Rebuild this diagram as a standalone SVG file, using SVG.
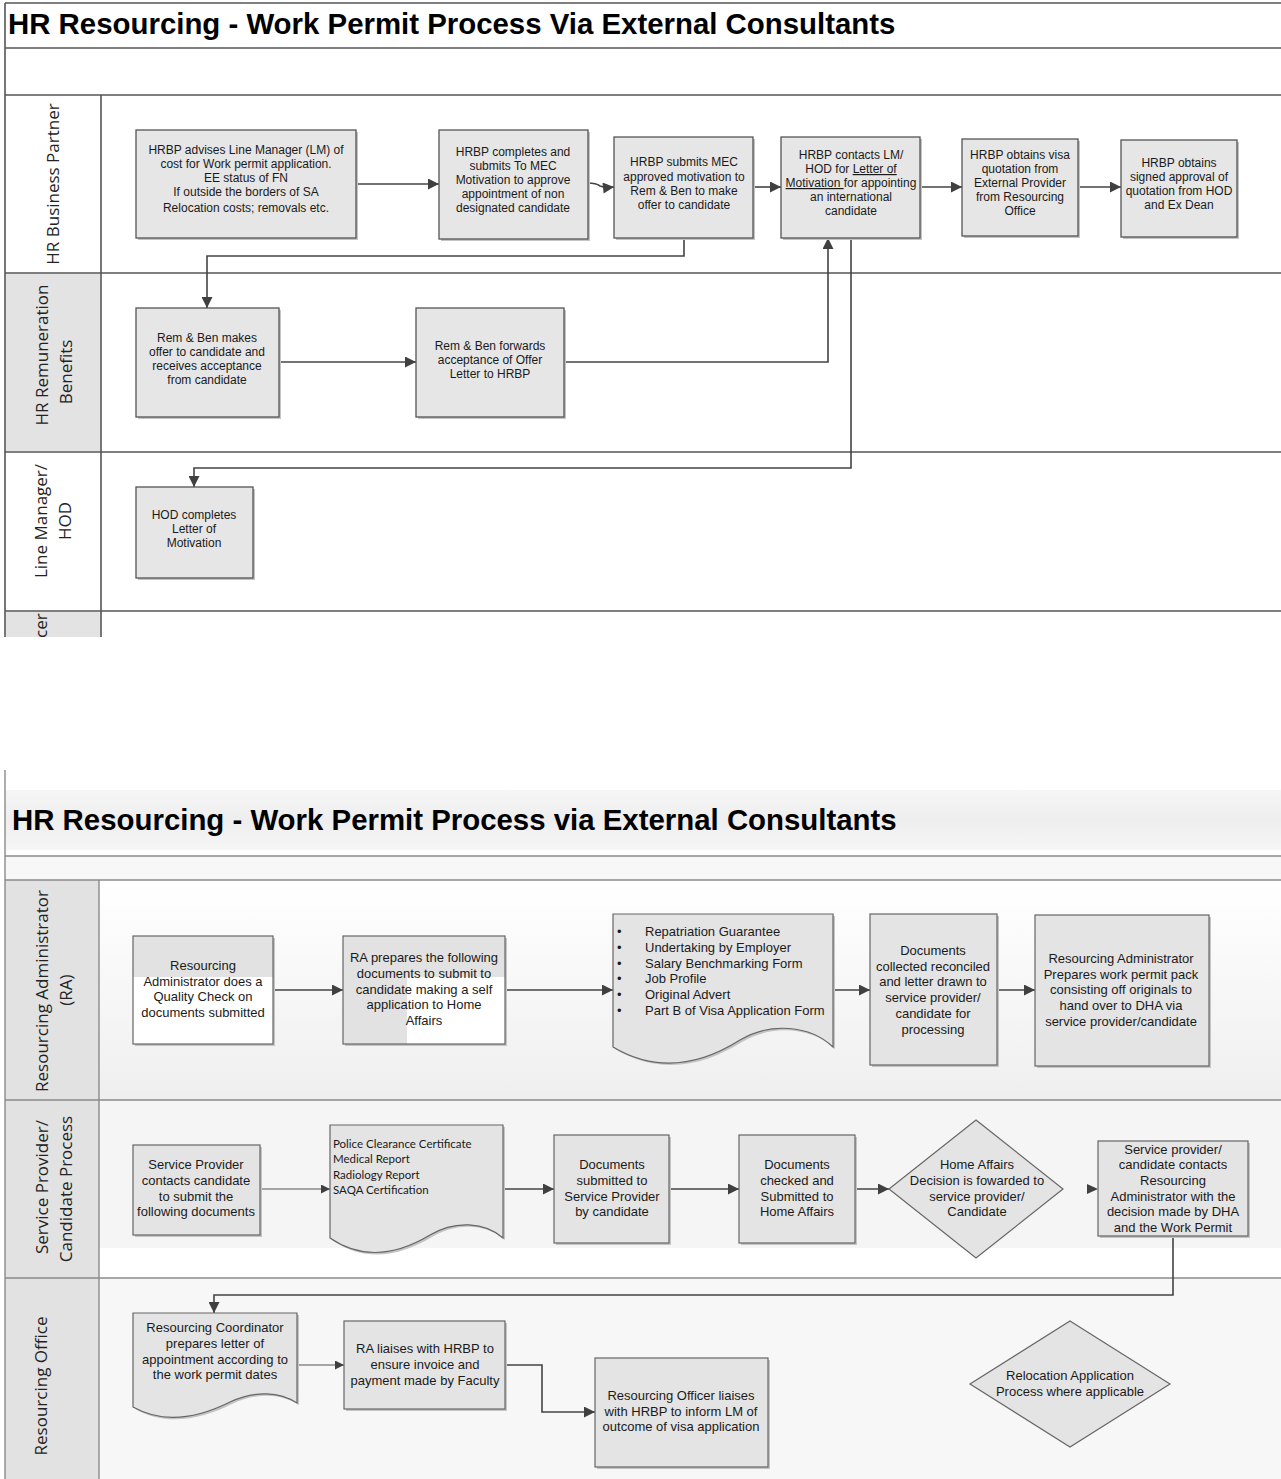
<svg xmlns="http://www.w3.org/2000/svg" width="1281" height="1479" viewBox="0 0 1281 1479">
<style>
.frame{stroke:#555;stroke-width:1.6;fill:none}
.frame2{stroke:#8a8a8a;stroke-width:1.4;fill:none}
.box{fill:#e6e6e6;stroke:#555;stroke-width:1.3}
.box2{fill:#e4e4e4;stroke:#666;stroke-width:1.2}
.shadow{fill:#c4c4c4}
.t{font-family:"Liberation Sans",Arial,sans-serif;font-size:12px;fill:#1a1a1a;text-anchor:middle}
.t2{font-family:"Liberation Sans",Arial,sans-serif;font-size:13px;fill:#1a1a1a;text-anchor:middle}
.tl{font-family:"Liberation Sans",Arial,sans-serif;font-size:13px;fill:#1a1a1a}
.tc{font-family:Lato,"Open Sans",sans-serif;font-size:11.5px;fill:#1a1a1a}
.lane{font-family:"Open Sans","Noto Sans",sans-serif;font-size:17px;fill:#222;text-anchor:middle}
.title{font-family:"Liberation Sans",Arial,sans-serif;font-size:29.4px;font-weight:bold;fill:#000}
.conn{stroke:#444;stroke-width:1.6;fill:none}
.conn2{stroke:#555;stroke-width:1.1;fill:none}
</style>
<defs>
<marker id="arr" viewBox="0 0 10 10" refX="10" refY="5" markerWidth="12" markerHeight="11" markerUnits="userSpaceOnUse" orient="auto"><path d="M0,0 L10,5 L0,10 z" fill="#404040"/></marker>
<marker id="arrs" viewBox="0 0 10 10" refX="10" refY="5" markerWidth="9" markerHeight="9" markerUnits="userSpaceOnUse" orient="auto"><path d="M0,0 L10,5 L0,10 z" fill="#404040"/></marker>
<linearGradient id="gRA" x1="0" y1="0" x2="0" y2="1"><stop offset="0" stop-color="#ffffff"/><stop offset="1" stop-color="#efefef"/></linearGradient>
<linearGradient id="gTitle" x1="0" y1="0" x2="0" y2="1"><stop offset="0" stop-color="#f6f6f6"/><stop offset="0.5" stop-color="#eeeeee"/><stop offset="1" stop-color="#f6f6f6"/></linearGradient>
<clipPath id="clipCer"><rect x="5" y="612" width="96" height="25"/></clipPath>
</defs>

<g id="top-frame">
<rect x="0" y="0" width="1281" height="640" fill="#ffffff"/>
<rect x="6" y="612" width="94" height="25" fill="#e3e3e3"/>
<rect x="6" y="274" width="94" height="177" fill="#e3e3e3"/>
<line class="frame" x1="5" y1="3" x2="1281" y2="3"/>
<line class="frame" x1="5" y1="3" x2="5" y2="637"/>
<line class="frame" x1="5" y1="48" x2="1281" y2="48"/>
<line class="frame" x1="5" y1="95" x2="1281" y2="95"/>
<line class="frame" x1="5" y1="273" x2="1281" y2="273"/>
<line class="frame" x1="5" y1="452" x2="1281" y2="452"/>
<line class="frame" x1="5" y1="611" x2="1281" y2="611"/>
<line class="frame" x1="101" y1="95" x2="101" y2="637"/>
<text class="title" x="8" y="34">HR Resourcing - Work Permit Process Via External Consultants</text>
<text class="lane" transform="translate(59,184) rotate(-90)">HR Business Partner</text>
<text class="lane" transform="translate(48,355) rotate(-90)">HR Remuneration</text>
<text class="lane" transform="translate(72,372) rotate(-90)">Benefits</text>
<text class="lane" transform="translate(47,521) rotate(-90)">Line Manager/</text>
<text class="lane" transform="translate(71,521) rotate(-90)">HOD</text>
<g clip-path="url(#clipCer)"><text class="lane" style="text-anchor:start" transform="translate(47,638) rotate(-90)">cer</text></g>
</g>

<g id="bottom-frame">
<rect x="5" y="790" width="1276" height="60" fill="url(#gTitle)"/>
<rect x="5" y="856" width="1276" height="24" fill="#f7f7f7"/>
<rect x="99" y="880" width="1182" height="220" fill="url(#gRA)"/>
<rect x="99" y="1100" width="1182" height="148" fill="#f5f5f5"/>
<rect x="99" y="1278" width="1182" height="201" fill="#f7f7f7"/>
<rect x="5" y="880" width="94" height="599" fill="#e2e2e2"/>
<line class="frame2" x1="5" y1="770" x2="5" y2="1479"/>
<line class="frame2" x1="5" y1="856" x2="1281" y2="856"/>
<line class="frame2" x1="5" y1="880" x2="1281" y2="880"/>
<line class="frame2" x1="5" y1="1100" x2="1281" y2="1100"/>
<line class="frame2" x1="5" y1="1278" x2="1281" y2="1278"/>
<line class="frame2" x1="99" y1="880" x2="99" y2="1479"/>
<text class="title" x="12" y="830">HR Resourcing - Work Permit Process via External Consultants</text>
<text class="lane" transform="translate(48,991) rotate(-90)">Resourcing Administrator</text>
<text class="lane" transform="translate(72,990) rotate(-90)">(RA)</text>
<text class="lane" transform="translate(48,1187) rotate(-90)">Service Provider/</text>
<text class="lane" transform="translate(72,1189) rotate(-90)">Candidate Process</text>
<text class="lane" transform="translate(47,1386) rotate(-90)">Resourcing Office</text>
</g>

<g id="connectors">
<line class="conn" x1="356" y1="184" x2="439" y2="184" marker-end="url(#arr)"/>
<path class="conn" d="M588,183 Q596,183 600,186 Q604,188 614,187" marker-end="url(#arr)"/>
<line class="conn" x1="753" y1="187" x2="781" y2="187" marker-end="url(#arr)"/>
<line class="conn" x1="920" y1="187" x2="962" y2="187" marker-end="url(#arr)"/>
<line class="conn" x1="1078" y1="187" x2="1121" y2="187" marker-end="url(#arr)"/>
<polyline class="conn" points="684,238 684,256 207,256 207,308" marker-end="url(#arr)"/>
<line class="conn" x1="279" y1="362" x2="416" y2="362" marker-end="url(#arr)"/>
<polyline class="conn" points="564,362 828,362 828,238" marker-end="url(#arr)"/>
<polyline class="conn" points="851,238 851,468 194,468 194,487" marker-end="url(#arr)"/>
<line class="conn" x1="273" y1="990" x2="343" y2="990" marker-end="url(#arr)"/>
<line class="conn" x1="505" y1="990" x2="613" y2="990" marker-end="url(#arr)"/>
<line class="conn" x1="833" y1="990" x2="870" y2="990" marker-end="url(#arr)"/>
<line class="conn" x1="997" y1="990" x2="1035" y2="990" marker-end="url(#arr)"/>
<line class="conn2" x1="260" y1="1189" x2="330" y2="1189" marker-end="url(#arrs)"/>
<line class="conn" x1="503" y1="1189" x2="554" y2="1189" marker-end="url(#arr)"/>
<line class="conn" x1="669" y1="1189" x2="739" y2="1189" marker-end="url(#arr)"/>
<line class="conn" x1="855" y1="1189" x2="889" y2="1189" marker-end="url(#arr)"/>
<path d="M1087,1184 L1098,1189 L1087,1194 z" fill="#404040"/>
<polyline class="conn" points="1173,1236 1173,1295 214,1295 214,1313" marker-end="url(#arr)"/>
<line class="conn2" x1="297" y1="1365" x2="344" y2="1365" marker-end="url(#arrs)"/>
<polyline class="conn" points="505,1365 542,1365 542,1412 595,1412" marker-end="url(#arr)"/>
</g>

<g id="n-hrbp-advises">
<rect class="shadow" x="138" y="132" width="220" height="108"/>
<rect class="box" x="136" y="130" width="220" height="108"/>
<text class="t" x="246" y="154">HRBP advises Line Manager (LM) of</text>
<text class="t" x="246" y="168">cost for Work permit application.</text>
<text class="t" x="246" y="182">EE status of FN</text>
<text class="t" x="246" y="196">If outside the borders of SA</text>
<text class="t" x="246" y="212">Relocation costs; removals etc.</text>
</g>
<g id="n-hrbp-completes">
<rect class="shadow" x="441" y="132" width="149" height="109"/>
<rect class="box" x="439" y="130" width="149" height="109"/>
<text class="t" x="513" y="156">HRBP completes and</text>
<text class="t" x="513" y="170">submits To MEC</text>
<text class="t" x="513" y="184">Motivation to approve</text>
<text class="t" x="513" y="198">appointment of non</text>
<text class="t" x="513" y="212">designated candidate</text>
</g>
<g id="n-hrbp-submits">
<rect class="shadow" x="616" y="139" width="139" height="101"/>
<rect class="box" x="614" y="137" width="139" height="101"/>
<text class="t" x="684" y="166">HRBP submits MEC</text>
<text class="t" x="684" y="181">approved motivation to</text>
<text class="t" x="684" y="195">Rem &amp; Ben to make</text>
<text class="t" x="684" y="209">offer to candidate</text>
</g>
<g id="n-hrbp-contacts">
<rect class="shadow" x="783" y="139" width="139" height="101"/>
<rect class="box" x="781" y="137" width="139" height="101"/>
<text class="t" x="851" y="159">HRBP contacts LM/</text>
<text class="t" x="851" y="173">HOD for <tspan text-decoration="underline">Letter of</tspan></text>
<text class="t" x="851" y="187"><tspan text-decoration="underline">Motivation </tspan>for  appointing</text>
<text class="t" x="851" y="201">an international</text>
<text class="t" x="851" y="215">candidate</text>
</g>
<g id="n-hrbp-visa">
<rect class="shadow" x="964" y="141" width="116" height="97"/>
<rect class="box" x="962" y="139" width="116" height="97"/>
<text class="t" x="1020" y="159">HRBP obtains visa</text>
<text class="t" x="1020" y="173">quotation from</text>
<text class="t" x="1020" y="187">External Provider</text>
<text class="t" x="1020" y="201">from Resourcing</text>
<text class="t" x="1020" y="215">Office</text>
</g>
<g id="n-hrbp-signed">
<rect class="shadow" x="1123" y="142" width="116" height="97"/>
<rect class="box" x="1121" y="140" width="116" height="97"/>
<text class="t" x="1179" y="167">HRBP obtains</text>
<text class="t" x="1179" y="181">signed approval of</text>
<text class="t" x="1179" y="195">quotation from HOD</text>
<text class="t" x="1179" y="209">and Ex Dean</text>
</g>
<g id="n-remben-offer">
<rect class="shadow" x="138" y="310" width="143" height="109"/>
<rect class="box" x="136" y="308" width="143" height="109"/>
<text class="t" x="207" y="342">Rem &amp; Ben makes</text>
<text class="t" x="207" y="356">offer to candidate and</text>
<text class="t" x="207" y="370">receives acceptance</text>
<text class="t" x="207" y="384">from candidate</text>
</g>
<g id="n-remben-forward">
<rect class="shadow" x="418" y="310" width="148" height="109"/>
<rect class="box" x="416" y="308" width="148" height="109"/>
<text class="t" x="490" y="350">Rem &amp; Ben forwards</text>
<text class="t" x="490" y="364">acceptance of Offer</text>
<text class="t" x="490" y="378">Letter to HRBP</text>
</g>
<g id="n-hod-letter">
<rect class="shadow" x="138" y="489" width="117" height="91"/>
<rect class="box" x="136" y="487" width="117" height="91"/>
<text class="t" x="194" y="519">HOD completes</text>
<text class="t" x="194" y="533">Letter of</text>
<text class="t" x="194" y="547">Motivation</text>
</g>

<g id="n-ra-quality">
<rect class="shadow" x="135" y="938" width="140" height="108"/>
<rect x="133" y="936" width="140" height="108" fill="#ffffff"/>
<rect x="133" y="936" width="140" height="41" fill="#e2e2e2"/>
<rect x="133" y="936" width="140" height="108" fill="none" stroke="#666" stroke-width="1.2"/>
<text class="t2" x="203" y="970">Resourcing</text>
<text class="t2" x="203" y="986">Administrator does a</text>
<text class="t2" x="203" y="1001">Quality Check on</text>
<text class="t2" x="203" y="1017">documents submitted</text>
</g>
<g id="n-ra-prepares">
<rect class="shadow" x="345" y="938" width="162" height="108"/>
<rect x="343" y="936" width="162" height="108" fill="#ffffff"/>
<rect x="343" y="936" width="162" height="41" fill="#e2e2e2"/>
<rect x="343" y="936" width="64" height="108" fill="#e2e2e2"/>
<rect x="343" y="936" width="162" height="108" fill="none" stroke="#666" stroke-width="1.2"/>
<text class="t2" x="424" y="962">RA prepares the following</text>
<text class="t2" x="424" y="978">documents to submit to</text>
<text class="t2" x="424" y="994">candidate making a self</text>
<text class="t2" x="424" y="1009">application to Home</text>
<text class="t2" x="424" y="1025">Affairs</text>
</g>
<g id="n-ra-doclist">
<path d="M615,916 H835 V1049 C812,1027 772,1024 742,1042 C707,1064 662,1077 615,1049 Z" fill="#c4c4c4"/>
<path d="M613,914 H833 V1047 C810,1025 770,1022 740,1040 C705,1062 660,1075 613,1047 Z" fill="#e4e4e4" stroke="#666" stroke-width="1.2"/>
<text class="tl" x="617" y="936">•</text>
<text class="tl" x="617" y="952">•</text>
<text class="tl" x="617" y="968">•</text>
<text class="tl" x="617" y="983">•</text>
<text class="tl" x="617" y="999">•</text>
<text class="tl" x="617" y="1015">•</text>
<text class="tl" x="645" y="936">Repatriation Guarantee</text>
<text class="tl" x="645" y="952">Undertaking by Employer</text>
<text class="tl" x="645" y="968">Salary Benchmarking Form</text>
<text class="tl" x="645" y="983">Job Profile</text>
<text class="tl" x="645" y="999">Original Advert</text>
<text class="tl" x="645" y="1015">Part B of Visa Application Form</text>
</g>
<g id="n-ra-collected">
<rect class="shadow" x="872" y="916" width="127" height="151"/>
<rect class="box2" x="870" y="914" width="127" height="151"/>
<text class="t2" x="933" y="955">Documents</text>
<text class="t2" x="933" y="971">collected reconciled</text>
<text class="t2" x="933" y="986">and letter drawn to</text>
<text class="t2" x="933" y="1002">service provider/</text>
<text class="t2" x="933" y="1018">candidate for</text>
<text class="t2" x="933" y="1034">processing</text>
</g>
<g id="n-ra-pack">
<rect class="shadow" x="1037" y="917" width="174" height="151"/>
<rect class="box2" x="1035" y="915" width="174" height="151"/>
<text class="t2" x="1121" y="963">Resourcing Administrator</text>
<text class="t2" x="1121" y="979">Prepares work permit pack</text>
<text class="t2" x="1121" y="994">consisting off originals to</text>
<text class="t2" x="1121" y="1010">hand over to DHA via</text>
<text class="t2" x="1121" y="1026">service provider/candidate</text>
</g>

<g id="n-sp-contacts">
<rect class="shadow" x="135" y="1147" width="127" height="90"/>
<rect class="box2" x="133" y="1145" width="127" height="90"/>
<text class="t2" x="196" y="1169">Service Provider</text>
<text class="t2" x="196" y="1185">contacts candidate</text>
<text class="t2" x="196" y="1201">to submit the</text>
<text class="t2" x="196" y="1216">following documents</text>
</g>
<g id="n-sp-doclist">
<path d="M332,1127 H505 V1240 C487,1224 457,1222 432,1237 C402,1255 367,1264 332,1240 Z" fill="#c4c4c4"/>
<path d="M330,1125 H503 V1238 C485,1222 455,1220 430,1235 C400,1253 365,1262 330,1238 Z" fill="#e4e4e4" stroke="#666" stroke-width="1.2"/>
<text class="tc" x="333" y="1148">Police Clearance Certificate</text>
<text class="tc" x="333" y="1163">Medical Report</text>
<text class="tc" x="333" y="1179">Radiology Report</text>
<text class="tc" x="333" y="1194">SAQA Certification</text>
</g>
<g id="n-sp-submitted">
<rect class="shadow" x="556" y="1137" width="115" height="108"/>
<rect class="box2" x="554" y="1135" width="115" height="108"/>
<text class="t2" x="612" y="1169">Documents</text>
<text class="t2" x="612" y="1185">submitted to</text>
<text class="t2" x="612" y="1201">Service Provider</text>
<text class="t2" x="612" y="1216">by candidate</text>
</g>
<g id="n-sp-checked">
<rect class="shadow" x="741" y="1137" width="116" height="108"/>
<rect class="box2" x="739" y="1135" width="116" height="108"/>
<text class="t2" x="797" y="1169">Documents</text>
<text class="t2" x="797" y="1185">checked and</text>
<text class="t2" x="797" y="1201">Submitted to</text>
<text class="t2" x="797" y="1216">Home Affairs</text>
</g>
<g id="n-sp-decision">
<path d="M976,1120 L1063,1189 L976,1258 L889,1189 Z" fill="#e4e4e4" stroke="#666" stroke-width="1.2"/>
<text class="t2" x="977" y="1169">Home Affairs</text>
<text class="t2" x="977" y="1185">Decision is fowarded to</text>
<text class="t2" x="977" y="1201">service provider/</text>
<text class="t2" x="977" y="1216">Candidate</text>
</g>
<g id="n-sp-report">
<rect class="shadow" x="1100" y="1143" width="150" height="95"/>
<rect class="box2" x="1098" y="1141" width="150" height="95"/>
<text class="t2" x="1173" y="1154">Service provider/</text>
<text class="t2" x="1173" y="1169">candidate contacts</text>
<text class="t2" x="1173" y="1185">Resourcing</text>
<text class="t2" x="1173" y="1201">Administrator with the</text>
<text class="t2" x="1173" y="1216">decision made by DHA</text>
<text class="t2" x="1173" y="1232">and  the Work Permit</text>
</g>

<g id="n-ro-letter">
<path d="M135,1315 H299 V1405 C282,1394 257,1392 232,1404 C202,1419 167,1427 135,1409 Z" fill="#c4c4c4"/>
<path d="M133,1313 H297 V1403 C280,1392 255,1390 230,1402 C200,1417 165,1425 133,1407 Z" fill="#e4e4e4" stroke="#666" stroke-width="1.2"/>
<text class="t2" x="215" y="1332">Resourcing Coordinator</text>
<text class="t2" x="215" y="1348">prepares letter of</text>
<text class="t2" x="215" y="1364">appointment according to</text>
<text class="t2" x="215" y="1379">the work permit dates</text>
</g>
<g id="n-ro-invoice">
<rect class="shadow" x="346" y="1323" width="161" height="88"/>
<rect class="box2" x="344" y="1321" width="161" height="88"/>
<text class="t2" x="425" y="1353">RA liaises with HRBP to</text>
<text class="t2" x="425" y="1369">ensure invoice and</text>
<text class="t2" x="425" y="1385">payment made by Faculty</text>
</g>
<g id="n-ro-outcome">
<rect class="shadow" x="597" y="1360" width="173" height="109"/>
<rect class="box2" x="595" y="1358" width="173" height="109"/>
<text class="t2" x="681" y="1400">Resourcing Officer liaises</text>
<text class="t2" x="681" y="1416">with HRBP to inform LM of</text>
<text class="t2" x="681" y="1431">outcome of visa application</text>
</g>
<g id="n-ro-relocation">
<path d="M1070,1321 L1170,1384 L1070,1447 L970,1384 Z" fill="#e4e4e4" stroke="#666" stroke-width="1.2"/>
<text class="t2" x="1070" y="1380">Relocation Application</text>
<text class="t2" x="1070" y="1396">Process where applicable</text>
</g>
</svg>
